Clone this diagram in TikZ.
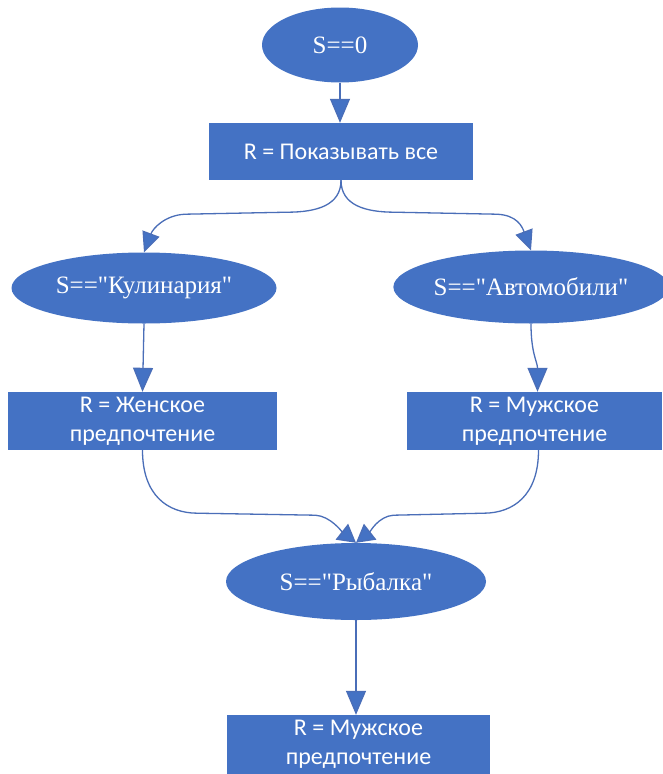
\documentclass[tikz,border=0pt]{standalone}
\usepackage{fontspec}
\setmainfont{Liberation Serif}[Ligatures=TeXOff]
\newfontfamily\boxfont{Carlito}
\usetikzlibrary{shapes.geometric,arrows.meta}
\definecolor{shapeblue}{HTML}{4472C4}
\definecolor{linkblue}{HTML}{4A6EB8}
\tikzset{
  oval/.style={ellipse, fill=shapeblue, draw=none, inner sep=0pt, text=white,
    font=\fontsize{25}{29}\selectfont},
  pbox/.style={rectangle, fill=shapeblue, draw=none, inner sep=0pt, text=white,
    align=center, font=\boxfont\fontsize{24}{29}\selectfont},
  conn/.style={draw=linkblue, line width=1.3pt,
    -{Triangle[width=20pt,length=24pt,fill=shapeblue]}},
  sconn/.style={draw=linkblue, line width=1.3pt,
    -{Triangle[width=18pt,length=20pt,fill=shapeblue]}},
  mconn/.style={draw=linkblue, line width=1.3pt,
    -{Triangle[width=20pt,length=18pt,fill=shapeblue]}}
}
\begin{document}
\begin{tikzpicture}[x=1pt,y=-1pt]
\useasboundingbox (0,0) rectangle (662,774);
\fill[white] (0,0) rectangle (662,774);

\node[oval, minimum width=156pt, minimum height=75pt] (e0) at (340,45) {S==0};
\node[pbox, minimum width=264pt, minimum height=57pt] (b1) at (341,151.5) {R = Показывать все};
\node[oval, minimum width=265pt, minimum height=71pt] (e1) at (144,288) {S==\textquotedbl Кулинария\textquotedbl};
\node[oval, minimum width=262pt, minimum height=73pt] (e2) at (531,287) {S==\textquotedbl Автомобили\textquotedbl};
\node[pbox, minimum width=269pt, minimum height=58pt] (b2) at (142.5,421) {R = Женское\\предпочтение};
\node[pbox, minimum width=255pt, minimum height=58pt] (b3) at (534.5,421) {R = Мужское\\предпочтение};
\node[oval, minimum width=260pt, minimum height=77pt] (e3) at (356,581.5) {S==\textquotedbl Рыбалка\textquotedbl};
\node[pbox, minimum width=263pt, minimum height=59pt] (b4) at (358.5,744.5) {R = Мужское\\предпочтение};

\draw[conn] (e0.south) -- (b1.north -| e0.south);
\draw[sconn] (b1.south) .. controls +(0,25) and +(30,0) .. ++(-54,32)
  -- ++(-102,2) .. controls +(-20,1) and +(9,-24) .. (e1.north);
\draw[sconn] (b1.south) .. controls +(0,25) and +(-30,0) .. ++(54,32)
  -- ++(102,2) .. controls +(20,1) and +(-9,-24) .. (e2.north);
\draw[conn] (e1.south) -- (b2.north);
\draw[conn] (e2.south) .. controls +(0,30) and +(0,-30) .. ([xshift=3pt]b3.north);
\draw[mconn] (b2.south) .. controls +(0,45) and +(-30,0) .. ++(55,63)
  -- ++(118,2) .. controls +(15,1) and +(-14,-11) .. (e3.north);
\draw[mconn] ([xshift=4pt]b3.south) .. controls +(0,45) and +(30,0) .. ++(-55,63)
  -- ++(-90,2) .. controls +(-15,1) and +(14,-11) .. (e3.north);
\draw[conn] (e3.south) -- (b4.north -| e3.south);
\end{tikzpicture}
\end{document}
